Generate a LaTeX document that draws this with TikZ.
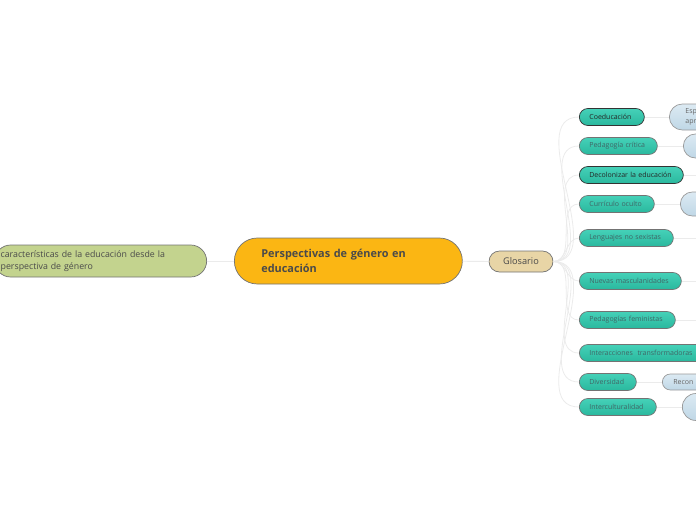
\documentclass[tikz,border=0pt]{standalone}
\usepackage{fontspec}
\setmainfont{Open Sans}
\usepackage{tikz}
\usetikzlibrary{positioning}
\definecolor{hubfill}{HTML}{FBB613}
\definecolor{leftfill}{HTML}{C3D38E}
\definecolor{glosfill}{HTML}{E8D5A6}
\definecolor{tealtop}{HTML}{45D1B8}
\definecolor{tealbot}{HTML}{2AB89E}
\definecolor{notetop}{HTML}{DCEAF3}
\definecolor{notebot}{HTML}{BFD7E6}
\definecolor{inkgray}{HTML}{4A4A4A}

\begin{document}
\begin{tikzpicture}[x=1pt, y=-1pt, font=\fontsize{7}{8.5}\selectfont,
		link/.style={draw=black!8, line width=0.8pt},
		pill/.style={draw=black!55, line width=0.7pt, inner ysep=0pt},
		term/.style={pill, top color=tealtop, bottom color=tealbot, anchor=west, minimum height=17pt, rounded corners=8.5pt, inner xsep=10pt, align=left, text=teal!40!black!75},
		termdark/.style={draw=black!80, text=black!85},
		termlight/.style={},
		note/.style={pill, draw=black!40, top color=notetop, bottom color=notebot, anchor=west, align=left, text=black!60}]
		\clip (0,0) rectangle (696,520);
		% ---- central topic and its two branches ----
		\node[pill, fill=hubfill, anchor=west, minimum width=228pt, minimum height=46pt, rounded corners=23pt,
			inner xsep=27pt, text width=174pt, align=left, text=inkgray,
			font=\fontsize{10.9}{15}\selectfont\bfseries] (hub) at (234,261) {Perspectivas de género en\\educación};
		\node[pill, fill=leftfill, anchor=east, minimum width=212pt, minimum height=32pt, rounded corners=16pt,
			inner xsep=6pt, text width=200pt, align=left, text=inkgray,
			font=\fontsize{8.8}{12}\selectfont] (rasgos) at (207,261) {características de la educación desde la\\perspectiva de género};
		\node[pill, fill=glosfill, minimum width=64pt, minimum height=21pt, rounded corners=10.5pt, text=inkgray,
			font=\fontsize{9.2}{10}\selectfont] (glosario) at (521,261.5) {Glosario};
		\draw[link] (rasgos) -- (hub);
		\draw[link] (hub) -- (glosario);
		% ---- glossary terms ----
		\foreach \n/\yy/\w/\st/\txt in {coeducacion/117/65/termdark/Coeducación,
				pedagogia/146/78/termlight/Pedagogía crítica,
				decolonizar/175/104/termdark/Decolonizar la educación,
				curriculo/204/75/termlight/Currículo oculto,
				lenguajes/238/94/termlight/Lenguajes no sexistas,
				masculinidades/281/102/termlight/Nuevas masculanidades,
				feministas/320/96/termlight/Pedagogías feministas,
				interacciones/353/128/termlight/Interacciones\ \ transformadoras,
				diversidad/382/57/termlight/Diversidad,
				interculturalidad/407/77/termlight/Interculturalidad}
		{
			\pgfmathsetmacro{\tw}{\w-20}
			\node[term, \st, text width=\tw pt] (\n) at (579,\yy) {\txt};
			\draw[link] (glosario.east) to[out=0, in=180] (\n.west);
		}
		% ---- notes cut off by the right edge ----
		\node[note, minimum height=26pt, rounded corners=13pt, inner xsep=16pt, text width=40pt,
			font=\fontsize{7}{10}\selectfont] (notecoed) at (669,117) {Esp\\apr};
		\node[note, minimum height=24pt, minimum width=60pt, rounded corners=12pt] (notepeda) at (683,146) {};
		\node[note, minimum height=24pt, minimum width=60pt, rounded corners=12pt] (notecurr) at (680,204) {};
		\node[note, minimum height=16pt, rounded corners=8pt, inner xsep=11pt, text width=50pt] (notediv) at (662,382) {Recon};
		\node[note, minimum height=27pt, minimum width=60pt, rounded corners=13.5pt] (noteinter) at (682,407) {};
		\foreach \a/\b in {coeducacion/notecoed, pedagogia/notepeda, curriculo/notecurr, diversidad/notediv, interculturalidad/noteinter}
			\draw[link] (\a.east) -- (\b.west);
		\foreach \a in {decolonizar, lenguajes, masculinidades, feministas}
		{
			\coordinate (\a-end) at (700,0 |- \a.east);
			\draw[link] (\a.east) -- (\a-end);
		}
\end{tikzpicture}
\end{document}
